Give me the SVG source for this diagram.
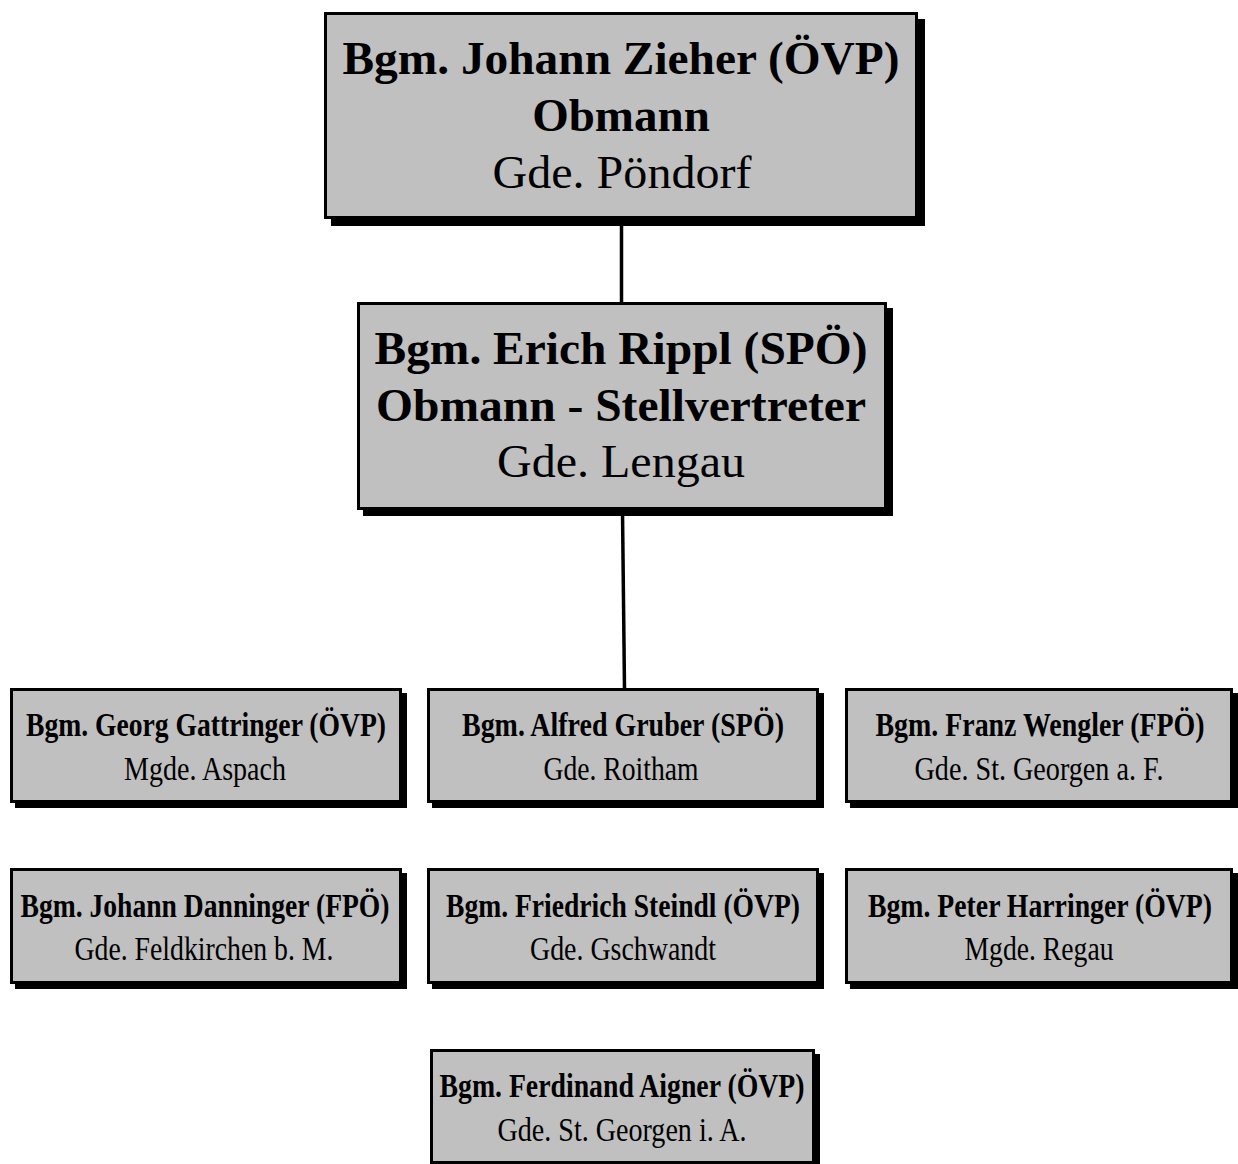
<svg xmlns="http://www.w3.org/2000/svg" width="1238" height="1164" viewBox="0 0 1238 1164">
<style>
.box{fill:#c0c0c0;stroke:#000;stroke-width:3}
.sh{fill:#000}
.t{font-family:"Liberation Serif","Times New Roman",serif;fill:#000;text-anchor:middle}
.b{font-weight:bold}
.big{font-size:47px}
.sm{font-size:33px}
.conn{stroke:#000;stroke-width:3.5;fill:none}
</style>
<rect width="1238" height="1164" fill="#fff"/>
<g id="connectors">
<line class="conn" x1="621.5" y1="219" x2="621.5" y2="302"/>
<line class="conn" x1="622.5" y1="512" x2="624.5" y2="689"/>
</g>
<g id="n1">
<rect class="sh" x="331" y="19" width="594" height="207"/>
<rect class="box" x="325.5" y="13.5" width="591" height="204"/>
<text class="t b big" x="621" y="74" textLength="557" lengthAdjust="spacingAndGlyphs">Bgm. Johann Zieher (ÖVP)</text>
<text class="t b big" x="621" y="131">Obmann</text>
<text class="t big" x="622" y="188" textLength="259" lengthAdjust="spacingAndGlyphs">Gde. Pöndorf</text>
</g>
<g id="n2">
<rect class="sh" x="363" y="308" width="530" height="208"/>
<rect class="box" x="358.5" y="303.5" width="527" height="205"/>
<text class="t b big" x="621" y="364" textLength="493" lengthAdjust="spacingAndGlyphs">Bgm. Erich Rippl (SPÖ)</text>
<text class="t b big" x="621" y="421" textLength="490" lengthAdjust="spacingAndGlyphs">Obmann - Stellvertreter</text>
<text class="t big" x="621" y="477" textLength="248" lengthAdjust="spacingAndGlyphs">Gde. Lengau</text>
</g>
<g id="n3">
<rect class="sh" x="15" y="693" width="392" height="115"/>
<rect class="box" x="11.5" y="689.5" width="389" height="112"/>
<text class="t b sm" x="206" y="736" textLength="360" lengthAdjust="spacingAndGlyphs">Bgm. Georg Gattringer (ÖVP)</text>
<text class="t sm" x="205" y="780" textLength="162" lengthAdjust="spacingAndGlyphs">Mgde. Aspach</text>
</g>
<g id="n4">
<rect class="sh" x="432" y="693" width="392" height="115"/>
<rect class="box" x="428.5" y="689.5" width="389" height="112"/>
<text class="t b sm" x="623" y="736" textLength="322" lengthAdjust="spacingAndGlyphs">Bgm. Alfred Gruber (SPÖ)</text>
<text class="t sm" x="621" y="780" textLength="155" lengthAdjust="spacingAndGlyphs">Gde. Roitham</text>
</g>
<g id="n5">
<rect class="sh" x="850" y="693" width="388" height="115"/>
<rect class="box" x="846.5" y="689.5" width="385" height="112"/>
<text class="t b sm" x="1040" y="736" textLength="329" lengthAdjust="spacingAndGlyphs">Bgm. Franz Wengler (FPÖ)</text>
<text class="t sm" x="1039" y="780" textLength="249" lengthAdjust="spacingAndGlyphs">Gde. St. Georgen a. F.</text>
</g>
<g id="n6">
<rect class="sh" x="15" y="873" width="392" height="116"/>
<rect class="box" x="11.5" y="869.5" width="389" height="113"/>
<text class="t b sm" x="205" y="917" textLength="369" lengthAdjust="spacingAndGlyphs">Bgm. Johann Danninger (FPÖ)</text>
<text class="t sm" x="204" y="960" textLength="259" lengthAdjust="spacingAndGlyphs">Gde. Feldkirchen b. M.</text>
</g>
<g id="n7">
<rect class="sh" x="432" y="873" width="392" height="116"/>
<rect class="box" x="428.5" y="869.5" width="389" height="113"/>
<text class="t b sm" x="623" y="917" textLength="354" lengthAdjust="spacingAndGlyphs">Bgm. Friedrich Steindl (ÖVP)</text>
<text class="t sm" x="623" y="960" textLength="186" lengthAdjust="spacingAndGlyphs">Gde. Gschwandt</text>
</g>
<g id="n8">
<rect class="sh" x="850" y="873" width="388" height="116"/>
<rect class="box" x="846.5" y="869.5" width="385" height="113"/>
<text class="t b sm" x="1040" y="917" textLength="344" lengthAdjust="spacingAndGlyphs">Bgm. Peter Harringer (ÖVP)</text>
<text class="t sm" x="1039" y="960" textLength="149" lengthAdjust="spacingAndGlyphs">Mgde. Regau</text>
</g>
<g id="n9">
<rect class="sh" x="435" y="1054" width="385" height="115"/>
<rect class="box" x="431.5" y="1050.5" width="382" height="112"/>
<text class="t b sm" x="622" y="1097" textLength="365" lengthAdjust="spacingAndGlyphs">Bgm. Ferdinand Aigner (ÖVP)</text>
<text class="t sm" x="622" y="1141" textLength="249" lengthAdjust="spacingAndGlyphs">Gde. St. Georgen i. A.</text>
</g>
</svg>
